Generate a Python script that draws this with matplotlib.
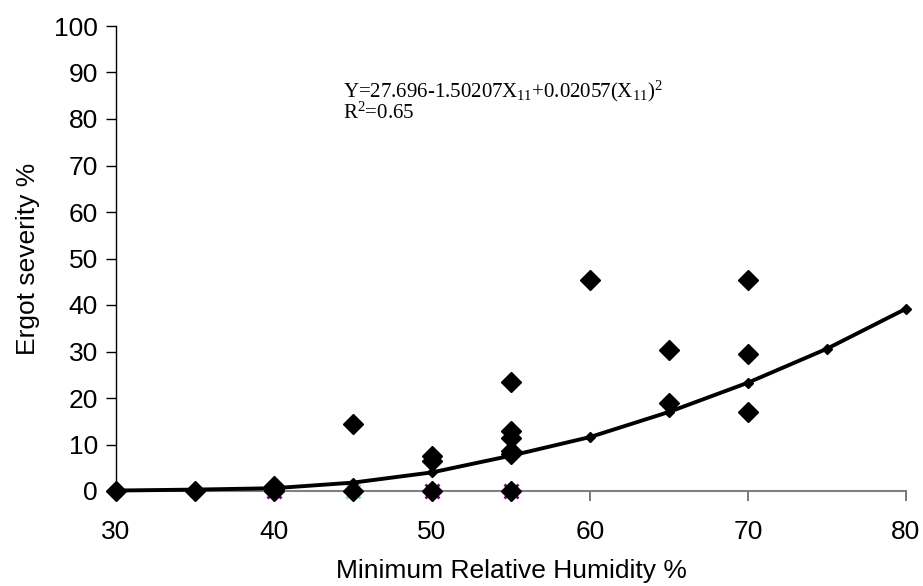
import matplotlib
matplotlib.use("Agg")
import matplotlib.pyplot as plt

plt.rcParams['font.family'] = ['Liberation Sans', 'DejaVu Sans']
plt.rcParams['mathtext.fontset'] = 'custom'
plt.rcParams['mathtext.rm'] = 'Liberation Serif'
plt.rcParams['mathtext.it'] = 'Liberation Serif:italic'

# Observed ergot severity
obs_x = [30, 35, 40, 40, 40, 45, 45, 50, 50, 50, 55, 55, 55, 55, 55, 55, 60, 65, 65, 70, 70, 70]
obs_y = [0, 0, 0, 0.5, 1.0, 14.4, 0, 7.6, 6.4, 0, 23.4, 13.0, 11.4, 8.6, 8.0, 0, 45.4, 30.3, 19.0, 45.4, 29.5, 17.0]

# Hidden series at zero
zero_x_purple = [40, 50, 55]
zero_y_purple = [0, 0, 0]
zero_x_blue = [45]
zero_y_blue = [0]

# Fitted quadratic curve
fit_x = [30, 35, 40, 45, 50, 55, 60, 65, 70, 75, 80]
fit_y = [0.1, 0.3, 0.6, 1.8, 4.0, 7.6, 11.6, 17.0, 23.3, 30.6, 39.2]

x_ticks = [30, 40, 50, 60, 70, 80]
y_ticks = [0, 10, 20, 30, 40, 50, 60, 70, 80, 90, 100]

W, H = 923, 586
fig = plt.figure(figsize=(W/100, H/100), dpi=100)
ax = fig.add_axes([116/W, 1 - 491/H, (906-116)/W, (491-26)/H])

ax.plot(zero_x_blue, zero_y_blue, linestyle='none', marker='x', color='#87CEEB',
        ms=10, mew=2, clip_on=False, zorder=2)
ax.plot(zero_x_blue, zero_y_blue, linestyle='none', marker='+', color='#FFFF66',
        ms=10, mew=2, clip_on=False, zorder=2)
ax.plot(zero_x_purple, zero_y_purple, linestyle='none', marker='x', color='#800080',
        ms=10, mew=2, clip_on=False, zorder=2)
ax.plot(obs_x, obs_y, linestyle='none', marker='D', color='black', ms=10,
        clip_on=False, zorder=3)
ax.plot(fit_x, fit_y, '-', color='black', lw=2.8, marker='D', ms=5,
        clip_on=False, zorder=4)

ax.set_xlim(30, 80)
ax.set_ylim(0, 100)
ax.set_xticks(x_ticks)
ax.set_yticks(y_ticks)

for s in ['top', 'right']:
    ax.spines[s].set_visible(False)
ax.spines['left'].set_color('black')
ax.spines['left'].set_linewidth(1.0)
ax.spines['bottom'].set_color('#808080')
ax.spines['bottom'].set_linewidth(1.5)

ax.tick_params(axis='y', direction='out', length=7, width=1, color='black',
               labelsize=19, pad=6)
ax.tick_params(axis='x', direction='out', length=7, width=1.2, color='#606060',
               labelsize=19, pad=14)

ax.set_xlabel('Minimum Relative Humidity %', fontsize=19, labelpad=11)
ax.set_ylabel('Ergot severity %', fontsize=19, labelpad=10)

fig.text(343/W, 1 - 97/H,
         r'Y=27.696-1.50207X$_{\mathrm{11}}$+0.02057(X$_{\mathrm{11}}$)$^{\mathrm{2}}$',
         fontsize=15, family='Liberation Serif', va='baseline', ha='left')
fig.text(343/W, 1 - 119/H, r'R$^{\mathrm{2}}$=0.65', fontsize=15,
         family='Liberation Serif', va='baseline', ha='left')

fig.savefig('out.png', dpi=100)
